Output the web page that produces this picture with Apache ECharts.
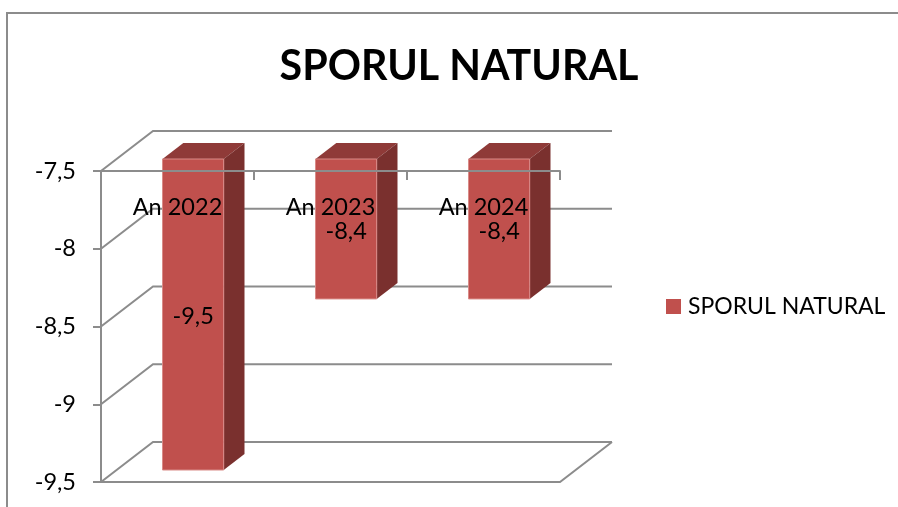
<!DOCTYPE html>
<html>
<head>
<meta charset="utf-8">
<style>
  html, body { margin: 0; padding: 0; background: #fff; }
  #chart { width: 898px; height: 507px; }
</style>
</head>
<body>
<div id="chart"></div>
<script src="https://cdn.jsdelivr.net/npm/echarts@6/dist/echarts.min.js"></script>
<script>
const categories = ['An 2022', 'An 2023', 'An 2024'];
const values = [-9.5, -8.4, -8.4];
const gridValues = [-9.5, -9, -8.5, -8, -7.5];
const seriesName = 'SPORUL NATURAL';

const fontName = 'Lato';
const lineColor = '#8c8c8c';
// depth of the fake 3d box, in pixels
const depthX = 52;
const depthY = -40;

const comma = v => String(v).replace('.', ',');

function renderWall(params, api) {
  const box = params.coordSys;
  const y = api.coord([0, api.value(1)])[1];
  const left = box.x;
  const right = box.x + box.width;
  const children = [{
    type: 'polyline',
    shape: { points: [[left, y], [left + depthX, y + depthY], [right + depthX, y + depthY]] },
    style: { fill: 'none', stroke: lineColor, lineWidth: 2 }
  }];
  // floor closes in the front
  if (params.dataIndex === 0) {
    children.push({
      type: 'polyline',
      shape: { points: [[left, y], [right, y], [right + depthX, y + depthY]] },
      style: { fill: 'none', stroke: lineColor, lineWidth: 2 }
    });
  }
  return { type: 'group', children };
}

function renderBar(params, api) {
  const i = api.value(0);
  const val = api.value(1);
  const bottom = api.coord([i, val]);
  const top = api.coord([i, -7.5]);
  const bw = api.size([1, 0])[0] * 0.4;
  // front face sits 30% into the depth, the bar is 40% deep
  const x0 = bottom[0] - bw / 2 + depthX * 0.3;
  const x1 = x0 + bw;
  const y0 = top[1] + depthY * 0.3;
  const y1 = bottom[1] + depthY * 0.3;
  const dx = depthX * 0.4;
  const dy = depthY * 0.4;
  return {
    type: 'group',
    children: [
      {
        type: 'polygon',
        shape: { points: [[x0, y0], [x0 + dx, y0 + dy], [x1 + dx, y0 + dy], [x1, y0]] },
        style: { fill: '#8f3a38' }
      },
      {
        type: 'polygon',
        shape: { points: [[x1, y0], [x1 + dx, y0 + dy], [x1 + dx, y1 + dy], [x1, y1]] },
        style: { fill: '#7a302e' }
      },
      {
        type: 'rect',
        shape: { x: x0, y: y0, width: bw, height: y1 - y0 },
        style: { fill: '#c0504d', stroke: '#d98b88', lineWidth: 1 }
      },
      {
        type: 'text',
        style: {
          x: (x0 + x1) / 2,
          y: (y0 + y1) / 2 + 2,
          text: comma(val),
          fill: '#000',
          font: '23.5px ' + fontName,
          align: 'center',
          verticalAlign: 'middle'
        }
      }
    ]
  };
}

const chart = echarts.init(document.getElementById('chart'));
chart.setOption({
  animation: false,
  backgroundColor: '#fff',
  graphic: [{
    type: 'polyline',
    shape: { points: [[7, 507], [7, 13], [898, 13]] },
    style: { fill: 'none', stroke: lineColor, lineWidth: 2 }
  }],
  title: {
    text: seriesName,
    left: 454,
    top: 41,
    textAlign: 'center',
    textStyle: { fontFamily: fontName, fontSize: 41.2, fontWeight: 'bold', color: '#000' }
  },
  legend: {
    data: [seriesName],
    left: 661,
    top: 290,
    icon: 'rect',
    itemWidth: 15,
    itemHeight: 15,
    itemGap: 0,
    textStyle: { fontFamily: fontName, fontSize: 23, color: '#000', padding: [0, 0, 0, 2] }
  },
  grid: { left: 101, right: 338, top: 171, bottom: 25 },
  xAxis: {
    type: 'category',
    position: 'top',
    data: categories,
    z: 5,
    axisLine: { onZero: false, lineStyle: { color: lineColor, width: 2 } },
    axisTick: { show: true, inside: true, length: 9, lineStyle: { color: lineColor, width: 2 } },
    axisLabel: { inside: true, margin: 24, color: '#000', fontFamily: fontName, fontSize: 23.5 }
  },
  yAxis: {
    type: 'value',
    min: -9.5,
    max: -7.5,
    interval: 0.5,
    splitLine: { show: false },
    axisLine: { show: true, lineStyle: { color: lineColor, width: 2 } },
    axisTick: { show: true, length: 8, lineStyle: { color: lineColor, width: 2 } },
    axisLabel: { margin: 25, color: '#000', fontFamily: fontName, fontSize: 23.5, padding: [5, 0, 0, 0], formatter: comma }
  },
  series: [
    {
      type: 'custom',
      name: 'grid',
      silent: true,
      z: 1,
      renderItem: renderWall,
      encode: { x: 0, y: 1 },
      data: gridValues.map(v => [0, v])
    },
    {
      type: 'custom',
      name: seriesName,
      z: 2,
      itemStyle: { color: '#c0504d' },
      renderItem: renderBar,
      encode: { x: 0, y: 1 },
      data: values.map((v, i) => [i, v])
    }
  ]
});
</script>
</body>
</html>
